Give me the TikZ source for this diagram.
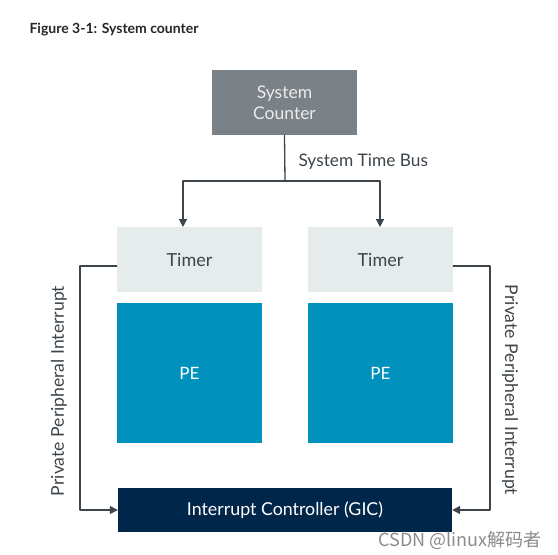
\documentclass[tikz,border=0pt]{standalone}
\usepackage{fontspec}
\setmainfont{Lato}
\newfontfamily\cjk{Noto Sans CJK SC}
\usepackage{pgf,tikz}
\usetikzlibrary{arrows.meta}
\definecolor{ctrgray}{HTML}{7A8187}
\definecolor{tmrgray}{HTML}{E6EBEB}
\definecolor{peblue}{HTML}{0091BD}
\definecolor{gicnavy}{HTML}{00264A}
\definecolor{linegray}{HTML}{3D454B}
\tikzset{box/.style={draw=none,minimum width=145pt,inner sep=0pt},
 wire/.style={linegray,line width=1.3pt},
 arr/.style={wire,-{Triangle[length=8pt,width=8pt]}}}
\begin{document}
\begin{tikzpicture}[line cap=round,line join=round,x=1pt,y=-1pt]
\useasboundingbox[fill=white] (0,0) rectangle (558,555);
\node[anchor=west,font=\fontsize{14}{17}\selectfont\bfseries,text=black!85] (title) at (26,30) {Figure 3-1: System counter};
\node[box,fill=ctrgray,minimum height=65pt,text=white!92!black,font=\fontsize{17.5}{21}\selectfont,align=center] (ctr) at (284.5,102.5) {System\\Counter};
\node[box,fill=tmrgray,minimum height=65pt,text=linegray,font=\fontsize{18}{21}\selectfont] (tmrl) at (189.5,259.5) {Timer};
\node[box,fill=tmrgray,minimum height=65pt,text=linegray,font=\fontsize{18}{21}\selectfont] (tmrr) at (380.5,259.5) {Timer};
\node[box,fill=peblue,minimum height=140pt,text=white,font=\fontsize{17}{20}\selectfont] (pel) at (189.5,373) {PE};
\node[box,fill=peblue,minimum height=140pt,text=white,font=\fontsize{17}{20}\selectfont] (per) at (380.5,373) {PE};
\node[box,fill=gicnavy,minimum width=334pt,minimum height=44pt,text=white,font=\fontsize{17.8}{21}\selectfont] (gic) at (285,510) {Interrupt Controller (GIC)};
\coordinate (bus) at (285,181);
\coordinate (busl) at (183,181);
\coordinate (busr) at (380,181);
\draw[wire] (ctr.south) -- (bus);
\draw[wire] (busl) -- (busr);
\draw[arr] (busl) -- (183,227);
\draw[arr] (busr) -- (380,227);
\draw (295,162) node[anchor=west,text=linegray,font=\fontsize{17.3}{20}\selectfont] (buslbl) {System Time Bus};
\coordinate (ppil) at (80,266);
\coordinate (ppir) at (490,266);
\draw[arr] (tmrl.west|-ppil) -- (ppil) |- (gic.west);
\draw[arr] (tmrr.east|-ppir) -- (ppir) |- (gic.east);
\node[rotate=90,text=linegray,font=\fontsize{17.6}{20}\selectfont] (ppillbl) at (59,391) {Private Peripheral Interrupt};
\node[rotate=-90,text=linegray,font=\fontsize{17.6}{20}\selectfont] (ppirlbl) at (510,390) {Private Peripheral Interrupt};
\node[anchor=east,text=black!45,font=\fontsize{18}{20}\selectfont\cjk] (wm) at (545,540) {CSDN @linux解码者};
\end{tikzpicture}
\end{document}
